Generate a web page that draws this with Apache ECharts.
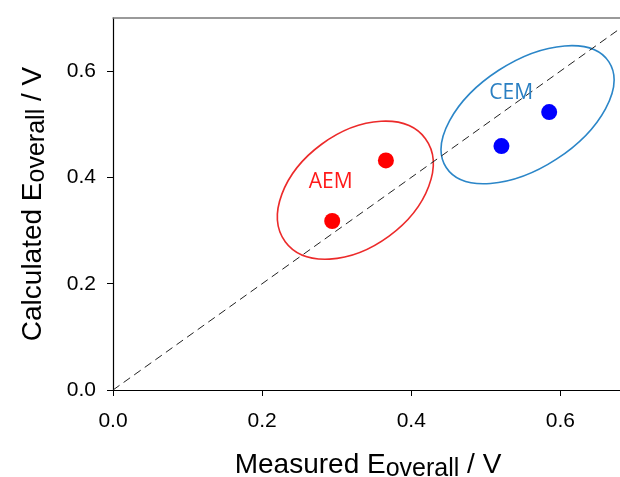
<!DOCTYPE html>
<html>
<head>
<meta charset="utf-8">
<script src="https://cdn.jsdelivr.net/npm/echarts@6/dist/echarts.min.js"></script>
<style>html,body{margin:0;padding:0;background:#fff}#c{width:620px;height:477px}</style>
</head>
<body>
<div id="c"></div>
<script>
// ---- data ----
const aemX = [0.294, 0.366];
const aemY = [0.318, 0.432];
const cemX = [0.521, 0.585];
const cemY = [0.459, 0.523];
const xTicks = [0, 0.2, 0.4, 0.6];
const yTicks = [0, 0.2, 0.4, 0.6];
const refLineX = [0, 0.7];
const refLineY = [0, 0.7];
const groupNames = ['AEM', 'CEM'];
const groupCenters = [[0.325, 0.376], [0.556, 0.518]];
const groupLabelPos = [[0.292, 0.392], [0.534, 0.558]];

const chart = echarts.init(document.getElementById('c'), null, {renderer: 'canvas'});
const FONT = 'Liberation Sans, Arial, sans-serif';
const zip = (xs, ys) => xs.map((v, i) => [v, ys[i]]);
const XMIN = 0, XMAX = 0.684;

chart.setOption({
  animation: false,
  backgroundColor: '#ffffff',
  grid: {left: 113, top: 18, right: -3, bottom: 87, containLabel: false, outerBoundsMode: 'none', show: false},
  xAxis: [{
    type: 'value', min: XMIN, max: XMAX, interval: 0.2, position: 'bottom',
    splitLine: {show: false},
    axisLine: {show: true, onZero: false, lineStyle: {color: '#000', width: 1.2}},
    axisTick: {show: true, length: 6, inside: false, customValues: xTicks, lineStyle: {color: '#000'}},
    axisLabel: {customValues: xTicks, margin: 21, color: '#000', fontFamily: FONT, fontSize: 21, formatter: v => v.toFixed(1)},
    name: '{a|Measured E}{s|overall}{a| / V}',
    nameLocation: 'middle', nameGap: 61,
    nameTextStyle: {
      color: '#000', fontFamily: FONT,
      rich: {
        a: {fontSize: 28, lineHeight: 30, verticalAlign: 'top', color: '#000', fontFamily: FONT},
        s: {fontSize: 25, lineHeight: 30, padding: [6, 0, 0, 0], verticalAlign: 'top', color: '#000', fontFamily: FONT}
      }
    }
  }, {
    type: 'value', min: XMIN, max: XMAX, position: 'top',
    splitLine: {show: false}, axisTick: {show: false}, axisLabel: {show: false},
    axisLine: {show: true, onZero: false, lineStyle: {color: '#7a7a7a', width: 1.5}}
  }],
  yAxis: {
    type: 'value', min: 0, max: 0.7, interval: 0.2,
    splitLine: {show: false},
    axisLine: {show: true, onZero: false, lineStyle: {color: '#000', width: 1.2}},
    axisTick: {show: true, length: 6, inside: false, customValues: yTicks, lineStyle: {color: '#000'}},
    axisLabel: {customValues: yTicks, margin: 17, color: '#000', fontFamily: FONT, fontSize: 21, formatter: v => v.toFixed(1)},
    name: '{a|Calculated E}{s|overall}{a| / V}',
    nameLocation: 'middle', nameGap: 64,
    nameTextStyle: {
      color: '#000', fontFamily: FONT,
      rich: {
        a: {fontSize: 28, lineHeight: 30, verticalAlign: 'top', color: '#000', fontFamily: FONT},
        s: {fontSize: 25, lineHeight: 30, padding: [6, 0, 0, 0], verticalAlign: 'top', color: '#000', fontFamily: FONT}
      }
    }
  },
  series: [
    {
      type: 'line', xAxisIndex: 0, data: zip(refLineX, refLineY), symbol: 'none', clip: true, silent: true,
      lineStyle: {color: '#222', width: 1, type: [8, 5]}
    },
    {
      name: 'AEM', type: 'scatter', xAxisIndex: 0, data: zip(aemX, aemY), symbolSize: 16,
      itemStyle: {color: '#ff0000', opacity: 1}
    },
    {
      name: 'CEM', type: 'scatter', xAxisIndex: 0, data: zip(cemX, cemY), symbolSize: 16,
      itemStyle: {color: '#0000ff', opacity: 1}
    }
  ]
});

// ---- annotations: group ellipses and labels, anchored to data coordinates ----
const ellipseStyle = [
  {rx: 87, ry: 57, angle: 36.3, stroke: '#ec2a2a', text: '#ff1a1a'},
  {rx: 97, ry: 53, angle: 33, stroke: '#2b86c8', text: '#2a7fc2'}
];
const graphics = [];
groupNames.forEach((name, i) => {
  const c = chart.convertToPixel({xAxisIndex: 0, yAxisIndex: 0}, groupCenters[i]);
  const st = ellipseStyle[i];
  graphics.push({
    type: 'ellipse', x: c[0], y: c[1], rotation: st.angle * Math.PI / 180,
    shape: {cx: 0, cy: 0, rx: st.rx, ry: st.ry},
    style: {fill: 'none', stroke: st.stroke, lineWidth: 1.6}, silent: true, z: 1
  });
  const p = chart.convertToPixel({xAxisIndex: 0, yAxisIndex: 0}, groupLabelPos[i]);
  graphics.push({
    type: 'text', x: p[0], y: p[1], silent: true, z: 5,
    style: {text: name, fill: st.text, font: '21px "Open Sans", sans-serif', textAlign: 'center', textVerticalAlign: 'middle'}
  });
});
chart.setOption({graphic: graphics});
</script>
</body>
</html>
